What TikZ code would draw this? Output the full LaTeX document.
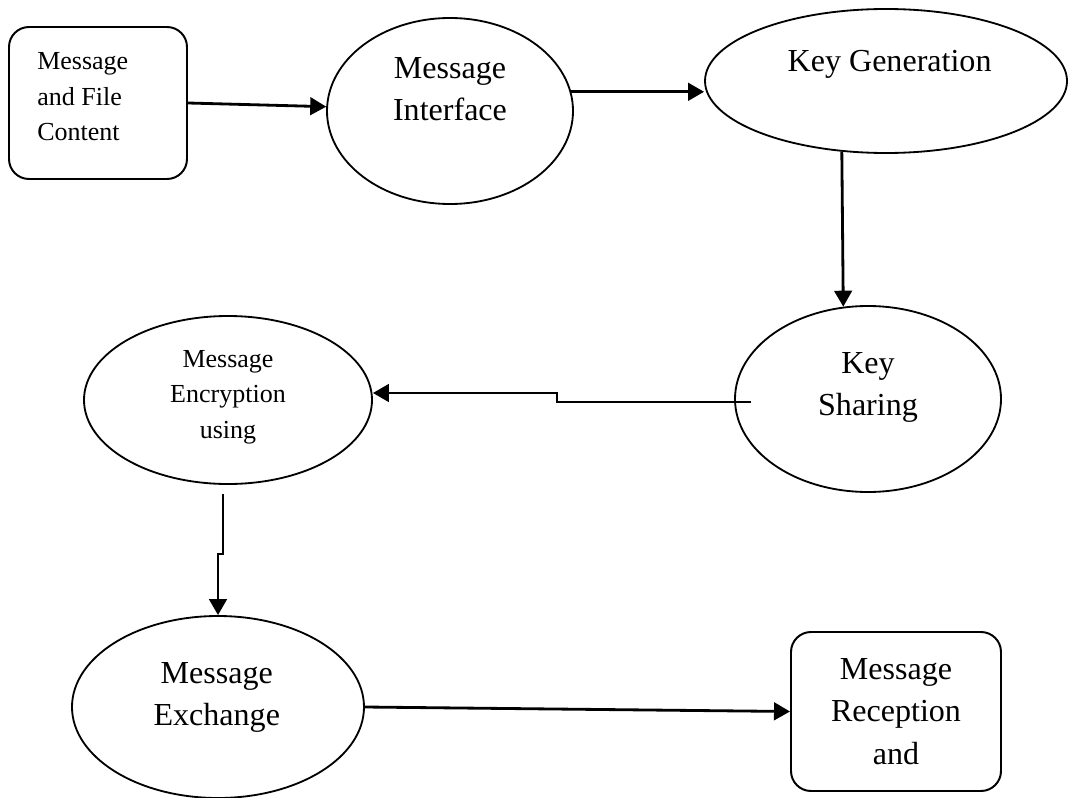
\documentclass[tikz,border=0pt]{standalone}
\usepackage{fontspec}
\setmainfont{Liberation Serif}
\usetikzlibrary{shapes.geometric, arrows.meta, positioning, calc}

\begin{document}
\begin{tikzpicture}[
        stage/.style={ellipse, draw=black, line width=1.3pt, inner sep=0pt},
        endbox/.style={rectangle, rounded corners=0.5cm, draw=black, line width=1.4pt, align=center},
        big/.style={font=\fontsize{22.8}{30}\selectfont, align=center, inner sep=0pt},
        small/.style={font=\fontsize{18.5}{25.3}\selectfont, align=center, inner sep=0pt},
        link/.style={-{Triangle[length=0.4cm, width=0.44cm]}, line width=2pt}
    ]
        \useasboundingbox (0,0) rectangle (26.7,-19.95);

        % Input
        \node[endbox, minimum width=4.45cm, minimum height=3.8cm] (fc) at (2.45, -2.575) {};
        \node[small, align=left, anchor=west] (fctext) at (0.925, -2.425) {Message\\and File\\Content};

        % Row 1
        \node[stage, minimum width=6.15cm, minimum height=4.65cm] (mi) at (11.25, -2.775) {};
        \node[big] (mitext) at (11.25, -2.225) {Message\\Interface};
        \node[stage, minimum width=9.05cm, minimum height=3.6cm] (kg) at (22.15, -2.025) {};
        \node[big] (kgtext) at (22.24, -1.6) {Key Generation};

        % Row 2
        \node[stage, minimum width=6.65cm, minimum height=4.65cm] (ks) at (21.7, -9.975) {};
        \node[big] (kstext) at (21.7, -9.6875) {Key\\Sharing};
        \node[stage, minimum width=7.2cm, minimum height=4.2cm] (me) at (5.7, -10) {};
        \node[small] (metext) at (5.7, -9.925) {Message\\Encryption\\using};

        % Row 3
        \node[stage, minimum width=7.3cm, minimum height=4.55cm] (mx) at (5.45, -17.675) {};
        \node[big] (mxtext) at (5.42, -17.4375) {Message\\Exchange};
        \node[endbox, big, minimum width=5.25cm, minimum height=3.975cm] (mr) at (22.4, -17.7875) {Message\\Reception\\and};

        % Connectors
        \coordinate (kstart) at ([xshift=0.425cm, yshift=-0.075cm]ks.west);
        \coordinate (kbend) at (13.925, -9.825);
        \coordinate (ebend) at (5.575, -13.85);
        \draw[link] (fc.east) -- (mi.178);
        \draw[link] (mi.9) -- (mi.9 -| kg.west);
        \draw[link] (kg.238) -- (ks.105);
        \draw[link] (kstart) -- (kbend |- kstart) -- (kbend) -- (kbend -| me.east);
        \draw[link] ($(me.south -| ebend)+(0,-0.225)$) -- (ebend) -- (ebend -| mx.north) -- (mx.north);
        \draw[link] (mx.east) -- (mr.west);
    \end{tikzpicture}
\end{document}
